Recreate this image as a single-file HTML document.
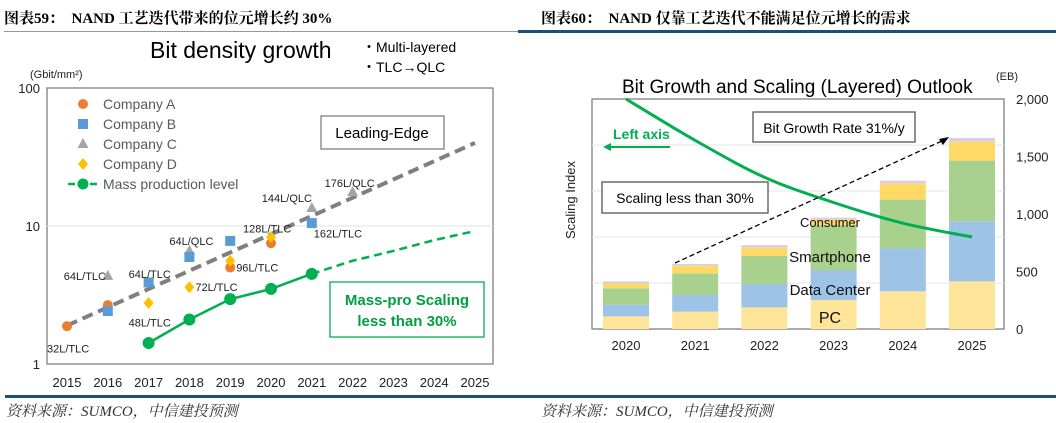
<!DOCTYPE html>
<html><head><meta charset="utf-8"><style>
body{margin:0;width:1056px;height:423px;background:#fff;overflow:hidden;position:relative;font-family:"Liberation Sans",sans-serif}
.h{position:absolute;top:7px;font:bold 15px "Liberation Serif","Noto Serif CJK SC",serif;color:#000;white-space:nowrap}
.f{position:absolute;top:400px;font:italic 15px "Liberation Serif","Noto Serif CJK SC",serif;color:#333;white-space:nowrap}
svg{position:absolute;left:0;top:0}
</style></head><body>
<div class="h" style="left:4px">图表59：&nbsp;&nbsp;NAND 工艺迭代带来的位元增长约 30%</div>
<div class="h" style="left:541px">图表60：&nbsp;&nbsp;NAND 仅靠工艺迭代不能满足位元增长的需求</div>
<div style="position:absolute;left:4px;top:31px;width:514px;height:1px;background:#8a9bb0"></div>
<div style="position:absolute;left:518px;top:30px;width:538px;height:3px;background:#1f4e79"></div>
<div style="position:absolute;left:5px;top:395px;width:1051px;height:3px;background:#1f4e79"></div>
<div class="f" style="left:6px">资料来源：SUMCO，中信建投预测</div>
<div class="f" style="left:541px">资料来源：SUMCO，中信建投预测</div>
<svg id="c" width="1056" height="423"></svg>
<script>
// ---- Left chart data ----
const years = [2015,2016,2017,2018,2019,2020,2021,2022,2023,2024,2025];
const yTicks = [1,10,100];
const compAYears=[2015,2016,2019,2020], compAVals=[1.88,2.67,5.0,7.5];
const compBYears=[2016,2017,2018,2019,2021], compBVals=[2.42,3.9,5.96,7.8,10.5];
const compCYears=[2016,2018,2021,2022], compCVals=[4.35,6.6,13.5,17.6];
const compDYears=[2017,2018,2019,2020], compDVals=[2.77,3.6,5.6,8.3];
const massYears=[2017,2018,2019,2020,2021], massVals=[1.42,2.1,2.95,3.5,4.5];
const massFcYears=[2021,2022,2023,2024,2025], massFcVals=[4.5,5.6,6.6,7.9,9.2];
const trendYears=[2015,2025], trendVals=[1.9,40];
const ptLabels=["32L/TLC","64L/TLC","64L/TLC","48L/TLC","72L/TLC","64L/QLC","96L/TLC","128L/TLC","144L/QLC","162L/TLC","176L/QLC"];
const ptLabelYears=[2015,2016,2017,2017,2018,2018,2019,2020,2021,2021,2022];
const ptLabelVals=[1.3,4.35,4.5,2.0,3.6,7.8,5.0,9.6,16.0,8.8,20.5];
// ---- Right chart data ----
const bYears=[2020,2021,2022,2023,2024,2025];
const pcV=[110,151,188,252,328,414];
const dcV=[102,145,203,261,376,522];
const spV=[142,188,244,391,421,528];
const consV=[43,67,75,47,142,165];
const otherV=[17,14,20,17,23,32];
const scaleIdx=[100,82,66,55,46,40];
const rTicks=[0,500,1000,1500,2000];
const rTickLabels=["0","500","1,000","1,500","2,000"];

const S=document.getElementById('c'),NS='http://www.w3.org/2000/svg';
function el(t,a,txt){const e=document.createElementNS(NS,t);for(const k in a)e.setAttribute(k,a[k]);if(txt!=null)e.textContent=txt;S.appendChild(e);return e;}
const lx=y=>67+(y-2015)*40.8, ly=v=>364-Math.log10(v)*138;
let e;
e=el('rect',{x:47,y:88,width:446,height:276,fill:'#fff',stroke:'#7f7f7f','stroke-width':1.3});

e=el('line',{x1:47,x2:493,y1:ly(10),y2:ly(10),stroke:'#e3e3e3'});

yTicks.forEach(t=>{const e=el('text',{x:40,y:ly(t)+5,'text-anchor':'end','font-size':13,fill:'#222'},String(t));
});
years.forEach(y=>{const e=el('text',{x:lx(y),y:387,'text-anchor':'middle','font-size':13,fill:'#222'},String(y));
});
e=el('text',{x:30,y:78,'font-size':11,fill:'#222'},'(Gbit/mm²)');
e=el('text',{x:150,y:58,'font-size':23,fill:'#000'},'Bit density growth');
e=el('text',{x:362,y:52,'font-size':14,fill:'#000'},'・Multi-layered');
e=el('text',{x:362,y:72,'font-size':14,fill:'#000'},'・TLC→QLC');
e=el('line',{x1:lx(trendYears[0]),y1:ly(trendVals[0]),x2:lx(trendYears[1]),y2:ly(trendVals[1]),stroke:'#7f7f7f','stroke-width':4,'stroke-dasharray':'11 6'});

e=el('polyline',{points:massFcYears.map((y,i)=>lx(y)+','+ly(massFcVals[i])).join(' '),fill:'none',stroke:'#00b050','stroke-width':2.5,'stroke-dasharray':'8 5'});

e=el('polyline',{points:massYears.map((y,i)=>lx(y)+','+ly(massVals[i])).join(' '),fill:'none',stroke:'#00b050','stroke-width':2.5});

massYears.forEach((y,i)=>{const e=el('circle',{cx:lx(y),cy:ly(massVals[i]),r:6,fill:'#00b050'});
});
function mark(kind,x,y,nm){let e;
 if(kind==='A')e=el('circle',{cx:x,cy:y,r:5,fill:'#ed7d31'});
 if(kind==='B')e=el('rect',{x:x-5,y:y-5,width:10,height:10,fill:'#5b9bd5'});
 if(kind==='C')e=el('polygon',{points:`${x},${y-6} ${x+5.5},${y+4} ${x-5.5},${y+4}`,fill:'#a5a5a5'});
 if(kind==='D')e=el('polygon',{points:`${x},${y-6} ${x+5},${y} ${x},${y+6} ${x-5},${y}`,fill:'#ffc000'});
 }
compCYears.forEach((y,i)=>mark('C',lx(y),ly(compCVals[i]),'company-c-point'));
compAYears.forEach((y,i)=>mark('A',lx(y),ly(compAVals[i]),'company-a-point'));
compBYears.forEach((y,i)=>mark('B',lx(y),ly(compBVals[i]),'company-b-point'));
compDYears.forEach((y,i)=>mark('D',lx(y),ly(compDVals[i]),'company-d-point'));
ptLabels.forEach((t,i)=>{const e=el('text',{x:lx(ptLabelYears[i])-(t==='64L/TLC'&&ptLabelYears[i]===2016?44:(t==='32L/TLC'||t==='48L/TLC'||t==='64L/TLC'||t==='64L/QLC'?20:(t==='72L/TLC'||t==='96L/TLC'?-6:t==='162L/TLC'?-2:t==='144L/QLC'?50:28))),y:ly(ptLabelVals[i])+4,'font-size':11,fill:'#222'},t);
});
const lg=[['A','Company A'],['B','Company B'],['C','Company C'],['D','Company D']];
lg.forEach((l,i)=>{mark(l[0],83,104+i*20,'legend-marker');const e=el('text',{x:103,y:109+i*20,'font-size':14,fill:'#595959'},l[1]);
});
e=el('line',{x1:68,x2:98,y1:184,y2:184,stroke:'#00b050','stroke-width':2.5,'stroke-dasharray':'7 4'});
e=el('circle',{cx:83,cy:184,r:5.5,fill:'#00b050'});
e=el('text',{x:103,y:189,'font-size':14,fill:'#595959'},'Mass production level');
e=el('rect',{x:321,y:116,width:123,height:33,fill:'#fff',stroke:'#7f7f7f','stroke-width':1.3});
e=el('text',{x:382,y:138,'text-anchor':'middle','font-size':15,fill:'#000'},'Leading-Edge');
e=el('rect',{x:330,y:282,width:154,height:55,fill:'#fff',stroke:'#00b050','stroke-width':1.3});
e=el('text',{x:407,y:305,'text-anchor':'middle','font-size':15,'font-weight':'bold',fill:'#00a040'},'Mass-pro Scaling');
e=el('text',{x:407,y:326,'text-anchor':'middle','font-size':15,'font-weight':'bold',fill:'#00a040'},'less than 30%');

// ---- Right chart ----
const rx0=592,rx1=1004,rTop=99,rBot=329;
const bx=y=>626+(y-2020)*69.2, ry=v=>rBot-v*(rBot-rTop)/2000, ly2=v=>rBot-v*(rBot-rTop)/100;
e=el('rect',{x:rx0,y:rTop,width:rx1-rx0,height:rBot-rTop,fill:'#fff',stroke:'#7f7f7f','stroke-width':1.3});
[1,2,3,4].forEach(k=>{const e=el('line',{x1:rx0,x2:rx1,y1:rBot-k*46,y2:rBot-k*46,stroke:'#e6e6e6'});});
rTicks.forEach((t,i)=>{const e=el('text',{x:1016,y:ry(t)+5,'font-size':13,fill:'#222'},rTickLabels[i]);});
e=el('text',{x:996,y:80,'font-size':11,fill:'#222'},'(EB)');
e=el('text',{x:622,y:93,'font-size':19,fill:'#000'},'Bit Growth and Scaling (Layered) Outlook');
e=el('text',{x:575,y:200,'font-size':13,fill:'#222','text-anchor':'middle',transform:'rotate(-90 575 200)'},'Scaling Index');
const stacks=[[pcV,'#fee599','bar-pc'],[dcV,'#9dc3e6','bar-data-center'],[spV,'#a9d18e','bar-smartphone'],[consV,'#ffd966','bar-consumer'],[otherV,'#d9cde3','bar-other']];
bYears.forEach((y,i)=>{let base=0;stacks.forEach(s=>{const v=s[0][i];const e=el('rect',{x:bx(y)-23,y:ry(base+v),width:46,height:ry(base)-ry(base+v),fill:s[1]});
base+=v;});
const t=el('text',{x:bx(y),y:350,'text-anchor':'middle','font-size':13,fill:'#222'},String(y));});
// scaling curve (Catmull-Rom smoothing)
const P=bYears.map((y,i)=>[bx(y),ly2(scaleIdx[i])]);
let d='M'+P[0][0]+','+P[0][1];
for(let i=0;i<P.length-1;i++){const p0=P[Math.max(i-1,0)],p1=P[i],p2=P[i+1],p3=P[Math.min(i+2,P.length-1)];
d+=` C${p1[0]+(p2[0]-p0[0])/6},${p1[1]+(p2[1]-p0[1])/6} ${p2[0]-(p3[0]-p1[0])/6},${p2[1]-(p3[1]-p1[1])/6} ${p2[0]},${p2[1]}`;}
e=el('path',{d:d,fill:'none',stroke:'#00b050','stroke-width':3});
e=el('line',{x1:675,y1:263,x2:944,y2:140,stroke:'#000','stroke-width':1.3,'stroke-dasharray':'5 3'});
e=el('polygon',{points:'949,137 939,139 943,145',fill:'#000'});
e=el('rect',{x:753,y:112,width:162,height:30,fill:'#fff',stroke:'#555','stroke-width':1.3});
e=el('text',{x:834,y:133,'text-anchor':'middle','font-size':14,fill:'#000'},'Bit Growth Rate 31%/y');
e=el('rect',{x:602,y:182,width:166,height:31,fill:'#fff',stroke:'#555','stroke-width':1.3});
e=el('text',{x:685,y:203,'text-anchor':'middle','font-size':14,fill:'#000'},'Scaling less than 30%');
e=el('text',{x:613,y:139,'font-size':14,'font-weight':'bold',fill:'#00b050'},'Left axis');
e=el('line',{x1:670,y1:147,x2:610,y2:147,stroke:'#00b050','stroke-width':2});
e=el('polygon',{points:'603,147 611,143 611,151',fill:'#00b050'});
[['Consumer',227,13],['Smartphone',262,15],['Data Center',295,15],['PC',323,16]].forEach(l=>{const e=el('text',{x:830,y:l[1],'text-anchor':'middle','font-size':l[2],fill:'#111'},l[0]);
});
</script>
</body></html>
